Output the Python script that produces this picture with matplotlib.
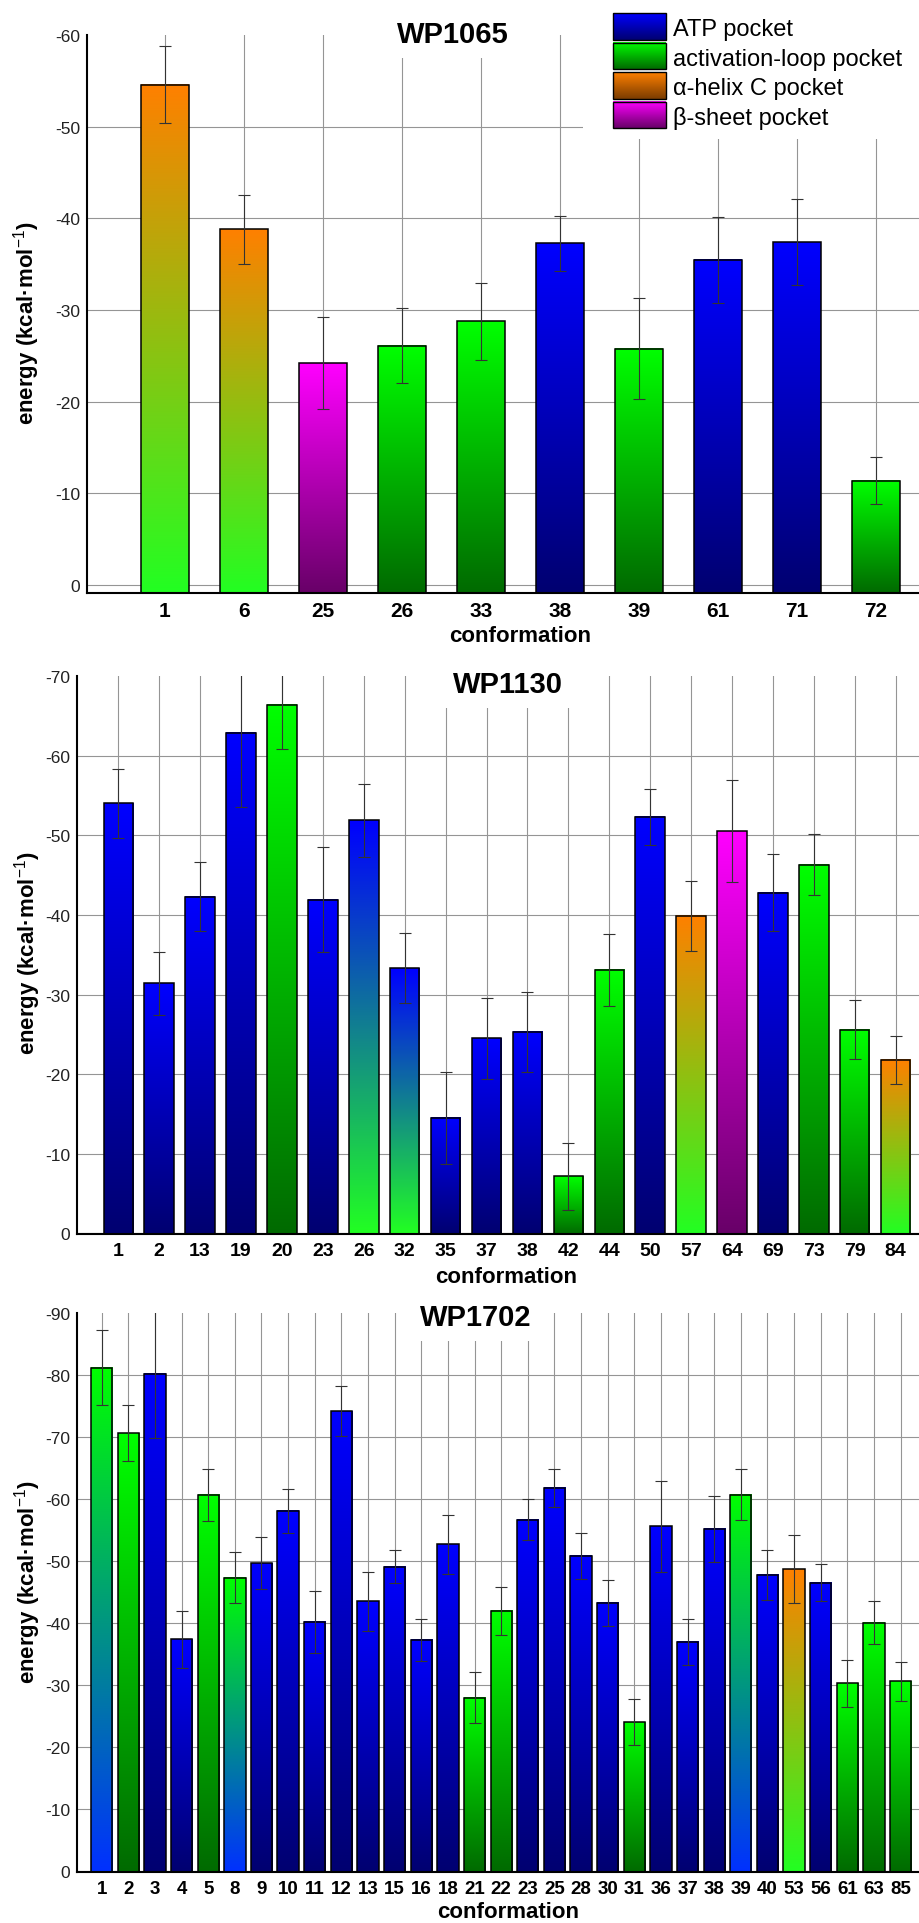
import numpy as np
import matplotlib
matplotlib.use('Agg')
import matplotlib.pyplot as plt
from matplotlib.colors import to_rgb
from matplotlib.patches import Rectangle

plt.rcParams['font.family'] = ['Liberation Sans', 'DejaVu Sans']
plt.rcParams['mathtext.fontset'] = 'custom'
plt.rcParams['mathtext.rm'] = 'Liberation Sans'
plt.rcParams['mathtext.it'] = 'Liberation Sans:italic'
plt.rcParams['mathtext.bf'] = 'Liberation Sans:bold'

# ____________________________ data ____________________________
pockets = ['ATP', 'loop', 'helix', 'sheet']
pocket_names = ['ATP pocket', 'activation-loop pocket', 'α-helix C pocket', 'β-sheet pocket']

# WP1065
conf_1065 = ['1', '6', '25', '26', '33', '38', '39', '61', '71', '72']
energy_1065 = [-54.6, -38.8, -24.2, -26.1, -28.8, -37.3, -25.8, -35.5, -37.4, -11.4]
err_1065 = [4.2, 3.8, 5.0, 4.1, 4.2, 3.0, 5.5, 4.7, 4.7, 2.6]
top_1065 = ['helix', 'helix', 'sheet', 'loop', 'loop', 'ATP', 'loop', 'ATP', 'ATP', 'loop']
bottom_1065 = ['loop', 'loop', 'sheet', 'loop', 'loop', 'ATP', 'loop', 'ATP', 'ATP', 'loop']

# WP1130
conf_1130 = ['1', '2', '13', '19', '20', '23', '26', '32', '35', '37',
             '38', '42', '44', '50', '57', '64', '69', '73', '79', '84']
energy_1130 = [-54.0, -31.4, -42.3, -62.9, -66.4, -41.9, -51.9, -33.3, -14.5, -24.5,
               -25.3, -7.2, -33.1, -52.3, -39.9, -50.5, -42.8, -46.3, -25.6, -21.8]
err_1130 = [4.3, 4.0, 4.3, 9.3, 5.6, 6.6, 4.6, 4.4, 5.8, 5.1,
            5.0, 4.2, 4.5, 3.5, 4.4, 6.4, 4.8, 3.8, 3.7, 3.0]
top_1130 = ['ATP', 'ATP', 'ATP', 'ATP', 'loop', 'ATP', 'ATP', 'ATP', 'ATP', 'ATP',
            'ATP', 'loop', 'loop', 'ATP', 'helix', 'sheet', 'ATP', 'loop', 'loop', 'helix']
bottom_1130 = ['ATP', 'ATP', 'ATP', 'ATP', 'loop', 'ATP', 'loop', 'loop', 'ATP', 'ATP',
               'ATP', 'loop', 'loop', 'ATP', 'loop', 'sheet', 'ATP', 'loop', 'loop', 'loop']

# WP1702
conf_1702 = ['1', '2', '3', '4', '5', '8', '9', '10', '11', '12', '13', '15', '16', '18',
             '21', '22', '23', '25', '28', '30', '31', '36', '37', '38', '39', '40',
             '53', '56', '61', '63', '85']
energy_1702 = [-81.2, -70.6, -80.2, -37.4, -60.7, -47.3, -49.7, -58.1, -40.2, -74.2,
               -43.5, -49.1, -37.3, -52.7, -28.0, -42.0, -56.7, -61.8, -50.9, -43.3,
               -24.0, -55.6, -37.0, -55.2, -60.7, -47.8, -48.7, -46.5, -30.3, -40.1, -30.6]
err_1702 = [6.0, 4.5, 10.4, 4.6, 4.2, 4.1, 4.2, 3.5, 5.0, 4.0,
            4.8, 2.7, 3.4, 4.7, 4.1, 3.9, 3.3, 3.1, 3.7, 3.7,
            3.7, 7.3, 3.7, 5.3, 4.1, 4.0, 5.5, 3.0, 3.8, 3.4, 3.2]
top_1702 = ['loop', 'loop', 'ATP', 'ATP', 'loop', 'loop', 'ATP', 'ATP', 'ATP', 'ATP',
            'ATP', 'ATP', 'ATP', 'ATP', 'loop', 'loop', 'ATP', 'ATP', 'ATP', 'ATP',
            'loop', 'ATP', 'ATP', 'ATP', 'loop', 'ATP', 'helix', 'ATP', 'loop', 'loop', 'loop']
bottom_1702 = ['ATP', 'loop', 'ATP', 'ATP', 'loop', 'ATP', 'ATP', 'ATP', 'ATP', 'ATP',
               'ATP', 'ATP', 'ATP', 'ATP', 'loop', 'loop', 'ATP', 'ATP', 'ATP', 'ATP',
               'loop', 'ATP', 'ATP', 'ATP', 'ATP', 'ATP', 'loop', 'ATP', 'loop', 'loop', 'loop']

# ____________________________ style ____________________________
bright = {'ATP': '#0000ff', 'loop': '#00ff00', 'helix': '#ff8000', 'sheet': '#ff00ff'}
dark = {'ATP': '#000070', 'loop': '#006a00', 'helix': '#7a3c00', 'sheet': '#680068'}
mixed = {'ATP': '#0030ff', 'loop': '#22ff22', 'helix': '#ff8000', 'sheet': '#ff00ff'}
grid_c = '#959595'

W, H = 919, 1924
fig = plt.figure(figsize=(W / 100, H / 100), dpi=100)


def px_axes(l, t, r, b, **kw):
    return fig.add_axes([l / W, 1 - b / H, (r - l) / W, (b - t) / H], **kw)


def grad(c_top, c_bot, n=256):
    f = np.linspace(0, 1, n)[:, None]
    a, b = np.array(to_rgb(c_bot)), np.array(to_rgb(c_top))
    return (a + (b - a) * f)[:, None, :]


def draw_panel(ax, confs, energy, err, top, bottom, width, ylim, yticks, xlim, xsize):
    x = np.arange(len(confs))
    base = ylim[0]
    for v in yticks[:-1]:
        ax.axhline(v, color=grid_c, lw=0.8, zorder=0)
    for xi in x:
        ax.axvline(xi, color=grid_c, lw=0.8, zorder=0)
    heights = np.array(energy) - base
    bars = ax.bar(x, heights, width, bottom=base, facecolor='none',
                  edgecolor='black', lw=1.1, zorder=3)
    for bar, t, b in zip(bars, top, bottom):
        c_top = bright[t]
        c_bot = dark[b] if t == b else mixed[b]
        x0, y0 = bar.get_x(), bar.get_y()
        ax.imshow(grad(c_top, c_bot),
                  extent=(x0, x0 + bar.get_width(), y0, y0 + bar.get_height()),
                  origin='lower', aspect='auto', interpolation='bilinear', zorder=2)
    ax.errorbar(x, energy, yerr=err, fmt='none', ecolor='#333333',
                elinewidth=0.8, capsize=4.3, capthick=0.8, zorder=4)
    ax.set_xlim(*xlim)
    ax.set_ylim(*ylim)
    ax.set_yticks(yticks)
    ax.set_yticklabels([str(v) for v in yticks], fontsize=12.5, color='#222222')
    ax.set_xticks(x)
    ax.set_xticklabels(confs, fontsize=xsize, fontweight='bold')
    ax.tick_params(length=0)
    ax.tick_params(axis='y', pad=5)
    ax.tick_params(axis='x', pad=6)
    for s in ['top', 'right']:
        ax.spines[s].set_visible(False)
    for s in ['left', 'bottom']:
        ax.spines[s].set_linewidth(1.5)


ylab = 'energy (kcal·mol$^{-1}$)'

# ___________ WP1065 ___________
ax1 = px_axes(87, 36, 919, 594)
draw_panel(ax1, conf_1065, energy_1065, err_1065, top_1065, bottom_1065, 0.6,
           (0.87, -60), [0, -10, -20, -30, -40, -50, -60], (-0.987, 9.544), 15)

# ___________ WP1130 ___________
ax2 = px_axes(77, 677, 919, 1235)
draw_panel(ax2, conf_1130, energy_1130, err_1130, top_1130, bottom_1130, 0.72,
           (0.07, -70), [0, -10, -20, -30, -40, -50, -60, -70], (-1.009, 19.57), 14)

# ___________ WP1702 ___________
ax3 = px_axes(77, 1314, 919, 1873)
draw_panel(ax3, conf_1702, energy_1702, err_1702, top_1702, bottom_1702, 0.8,
           (0.11, -90), [0, -10, -20, -30, -40, -50, -60, -70, -80, -90], (-0.928, 30.69), 13.5)

titles = [('WP1065', 453, 35), ('WP1130', 508, 685), ('WP1702', 476, 1318)]
for t, tx, ty in titles:
    fig.text(tx / W, 1 - ty / H, t, ha='center', va='center', fontsize=21,
             fontweight='bold', bbox=dict(fc='white', ec='none', pad=7), zorder=5)

for tx, ty in [(520, 637), (506, 1278), (508, 1913)]:
    fig.text(tx / W, 1 - ty / H, 'conformation', ha='center', va='center',
             fontsize=16, fontweight='bold')

for tx, ty in [(27, 323), (28, 953), (28, 1582)]:
    fig.text(tx / W, 1 - ty / H, ylab, ha='center', va='center', rotation=90,
             fontsize=16, fontweight='bold')

# ___________ legend ___________
lax = px_axes(583, 0, 919, 140, zorder=10)
lax.set_facecolor('white')
for i, (k, name) in enumerate(zip(pockets, pocket_names)):
    y0 = 14 + i * 29.6
    lax.imshow(grad(bright[k], dark[k]), extent=(30, 83, y0 + 26.5, y0),
               origin='lower', aspect='auto', interpolation='bilinear')
    lax.add_patch(Rectangle((30, y0), 53, 26.5, fill=False, ec='black', lw=1.0))
    lax.text(90, y0 + 22, name, fontsize=17, va='baseline')
lax.set_xlim(0, 336)
lax.set_ylim(140, 0)
lax.set_xticks([])
lax.set_yticks([])
for s in lax.spines.values():
    s.set_visible(False)

fig.savefig('out.png', dpi=100)
